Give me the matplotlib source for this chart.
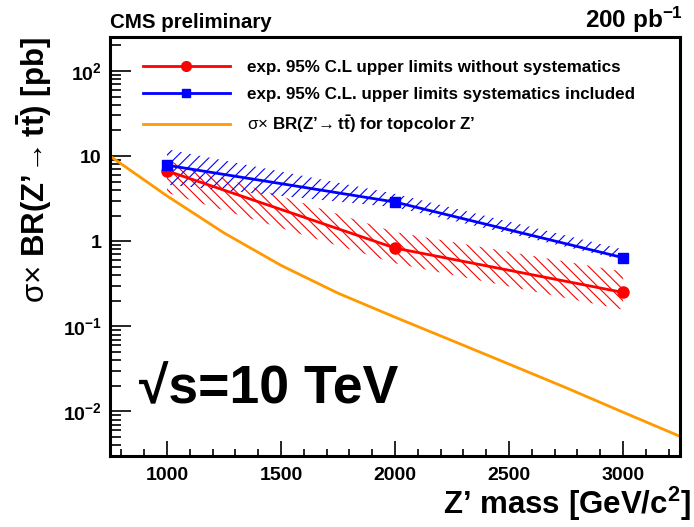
import matplotlib.pyplot as plt
from matplotlib.lines import Line2D
import numpy as np

plt.rcParams['font.family'] = ['Liberation Sans', 'DejaVu Sans']
plt.rcParams['mathtext.fontset'] = 'custom'
plt.rcParams['mathtext.rm'] = 'Liberation Sans'
plt.rcParams['mathtext.bf'] = 'Liberation Sans:bold'
plt.rcParams['mathtext.it'] = 'Liberation Sans:italic'
plt.rcParams['hatch.linewidth'] = 0.8

# expected limits
mass = [1000, 2000, 3000]
lim_nosys = [6.7, 0.83, 0.25]
lim_nosys_lo = [3.7, 0.55, 0.157]
lim_nosys_hi = [8.9, 1.28, 0.44]
lim_sys = [7.8, 2.88, 0.64]
lim_sys_lo = [4.6, 2.5, 0.6]
lim_sys_hi = [12.0, 3.6, 0.8]

# topcolor Z' theory curve
th_mass = [750, 1000, 1250, 1500, 1750, 2000, 2250, 2500, 2750, 3000, 3250]
th_xs = [10.0, 3.4, 1.25, 0.52, 0.245, 0.128, 0.068, 0.036, 0.019, 0.0098, 0.0051]

fig = plt.figure(figsize=(6.94, 5.27), dpi=100)
ax = fig.add_axes([0.1585, 0.1347, 0.8215, 0.7951])

ax.fill_between(mass, lim_nosys_lo, lim_nosys_hi, facecolor='none',
                edgecolor='red', linewidth=0, hatch='\\\\\\')
ax.fill_between(mass, lim_sys_lo, lim_sys_hi, facecolor='none',
                edgecolor='blue', linewidth=0, hatch='///')

ax.plot(th_mass, th_xs, color='#ff9900', lw=2)
ax.plot(mass, lim_nosys, color='red', lw=2, marker='o', ms=8)
ax.plot(mass, lim_sys, color='blue', lw=2, marker='s', ms=7)

ax.set_yscale('log')
ax.set_xlim(750, 3250)
ax.set_ylim(3e-3, 250)

ax.set_xticks([1000, 1500, 2000, 2500, 3000])
ax.set_xticks(np.arange(800, 3250, 100), minor=True)
ax.set_yticks([1e-2, 1e-1, 1, 10, 100])
ax.set_yticklabels([r'$\mathbf{10^{-2}}$', r'$\mathbf{10^{-1}}$', '1', '10', r'$\mathbf{10^{2}}$'])

ax.tick_params(axis='both', which='both', direction='in', top=False, right=False,
               labelsize=14, width=1.2)
ax.tick_params(axis='y', which='major', length=15, pad=6)
ax.tick_params(axis='y', which='minor', length=8)
ax.tick_params(axis='x', which='major', length=11, pad=8)
ax.tick_params(axis='x', which='minor', length=5)
for lab in ax.get_xticklabels() + ax.get_yticklabels():
    lab.set_fontweight('bold')
for s in ax.spines.values():
    s.set_linewidth(2.2)

fig.text(0.995, 0.025, "Z\u2019 mass [GeV/c$\\mathbf{^2}$]", fontsize=22.5,
         fontweight='bold', ha='right', va='baseline')
ax.set_ylabel("$\\mathrm{\u03c3\u00d7}$ $\\mathbf{BR(Z\u2019\\!\\rightarrow t\\bar{t})\\ [pb]}$",
              fontsize=22.5, loc='top', labelpad=6)

handles = [
    Line2D([], [], color='red', lw=2, marker='o', ms=7),
    Line2D([], [], color='blue', lw=2, marker='s', ms=6),
    Line2D([], [], color='#ff9900', lw=2),
]
labels = [
    'exp. 95% C.L upper limits without systematics',
    'exp. 95% C.L. upper limits systematics included',
    "$\\mathrm{\u03c3\u00d7}$ $\\mathbf{BR(Z\u2019\\!\\rightarrow t\\bar{t})}$ for topcolor Z\u2019",
]
leg = ax.legend(handles, labels, loc='upper left', bbox_to_anchor=(0.058, 0.945),
                frameon=False, borderpad=0, borderaxespad=0,
                handlelength=5.1, handletextpad=1.0,
                labelspacing=0.68, prop={'weight': 'bold', 'size': 12.25})

fig.text(0.1585, 0.947, 'CMS preliminary', fontsize=14.8, fontweight='bold',
         ha='left', va='baseline')
fig.text(0.984, 0.947, r'200 pb$\mathbf{^{-1}}$', fontsize=17.5, fontweight='bold',
         ha='right', va='baseline')
ax.text(0.05, 0.16, '\u221As=10 TeV', transform=ax.transAxes, fontsize=38.5,
        fontweight='bold', ha='left', va='center')

fig.savefig('out.png', dpi=100)
